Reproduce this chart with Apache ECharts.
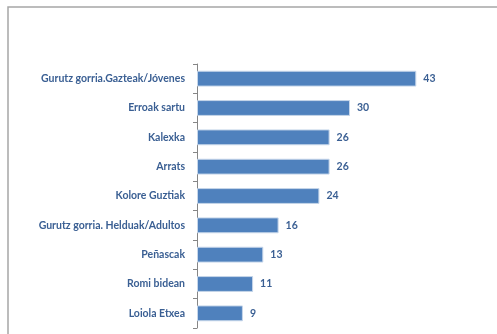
<!DOCTYPE html>
<html><head><meta charset="utf-8">
<script src="https://cdn.jsdelivr.net/npm/echarts@6/dist/echarts.min.js"></script>
<style>html,body{margin:0;padding:0;background:#fff}#c{width:497px;height:334px}</style>
</head><body><div id="c"></div>
<script>
const categories = ["Gurutz gorria.Gazteak/Jóvenes","Erroak sartu","Kalexka","Arrats","Kolore Guztiak","Gurutz gorria. Helduak/Adultos","Peñascak","Romi bidean","Loiola Etxea"];
const values = [43,30,26,26,24,16,13,11,9];
const chart = echarts.init(document.getElementById('c'), null, {renderer:'canvas'});
chart.setOption({
  animation:false,
  graphic:[{type:'rect',shape:{x:8,y:7,width:520,height:360},style:{fill:'none',stroke:'#A6A6A6',lineWidth:1.5},silent:true}],
  grid:{left:197,top:64,width:255,height:264},
  xAxis:{type:'value',min:0,max:50,show:false},
  yAxis:{type:'category',inverse:true,data:categories,
    axisLine:{lineStyle:{color:'#868686',width:1}},
    axisTick:{show:true,length:4,lineStyle:{color:'#868686'}},
    axisLabel:{color:'#3A5F93',fontFamily:'Lato',fontWeight:'bold',fontSize:10.5,margin:12}},
  series:[{type:'bar',data:values,barCategoryGap:'46%',
    itemStyle:{color:'#4F81BD',borderColor:'#C6D6EA',borderWidth:1},
    label:{show:true,position:'right',distance:7,color:'#3A5F93',fontFamily:'Lato',fontWeight:'bold',fontSize:10.5}}]
});
</script></body></html>
